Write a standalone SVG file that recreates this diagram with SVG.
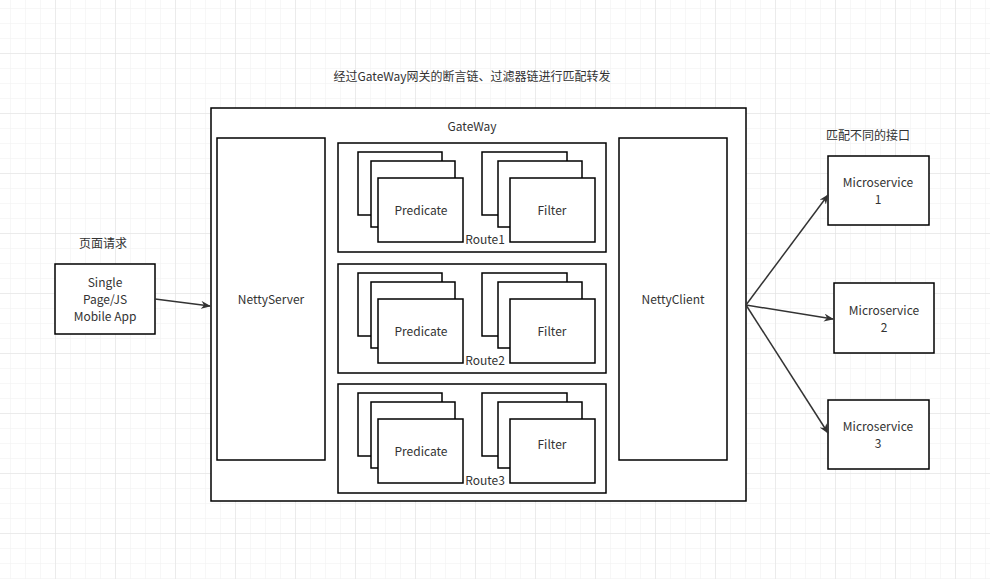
<svg xmlns="http://www.w3.org/2000/svg" width="990" height="579" viewBox="0 0 990 579">
<defs>
<pattern id="minor" x="10" y="8" width="15" height="15" patternUnits="userSpaceOnUse"><path d="M0 0H15M0 0V15" fill="none" stroke="#f0f0f0" stroke-width="1"/></pattern>
<pattern id="major" x="55" y="53" width="60" height="60" patternUnits="userSpaceOnUse"><path d="M0 0H60M0 0V60" fill="none" stroke="#e0e0e0" stroke-width="1"/></pattern>
<marker id="a" markerWidth="10" markerHeight="8" refX="9" refY="4" orient="auto" markerUnits="userSpaceOnUse"><path d="M0 0L10 4L0 8L3 4Z" fill="#333"/></marker>
<g id="stack"><rect x="0" y="0" width="84" height="63"/><rect x="13" y="9" width="84" height="66"/><rect x="20" y="26" width="85" height="64"/></g>
<g id="fstack"><rect x="0" y="0" width="85" height="63"/><rect x="16" y="9" width="84" height="66"/><rect x="28" y="26" width="85" height="64"/></g>
</defs>
<style>
rect{fill:#fff;stroke:#000;stroke-width:1.5}
text{font-family:"Microsoft YaHei","Noto Sans CJK SC","Liberation Sans",sans-serif;font-size:12px;fill:#333;text-anchor:middle}
.c{stroke:#333;stroke-width:1.5;fill:none;marker-end:url(#a)}
</style>
<rect x="0" y="0" width="990" height="579" style="fill:url(#minor);stroke:none"/>
<rect x="0" y="0" width="990" height="579" style="fill:url(#major);stroke:none"/>
<text x="472" y="81">经过GateWay网关的断言链、过滤器链进行匹配转发</text>
<g id="gateway"><rect x="211" y="108" width="535" height="393"/><text x="472" y="131">GateWay</text></g>
<g id="nettyserver"><rect x="217" y="138" width="108" height="322"/><text x="271" y="304">NettyServer</text></g>
<g id="nettyclient"><rect x="619" y="138" width="108" height="322"/><text x="673" y="304">NettyClient</text></g>
<g id="route1"><rect x="338" y="143" width="268" height="109"/>
<use href="#stack" x="358" y="152"/><text x="421" y="215">Predicate</text>
<use href="#fstack" x="482" y="152"/><text x="552" y="215">Filter</text>
<text x="485" y="244">Route1</text></g>
<g id="route2"><rect x="338" y="264" width="268" height="109"/>
<use href="#stack" x="358" y="273"/><text x="421" y="336">Predicate</text>
<use href="#fstack" x="482" y="273"/><text x="552" y="336">Filter</text>
<text x="485" y="365">Route2</text></g>
<g id="route3"><rect x="338" y="384" width="268" height="109"/>
<use href="#stack" x="358" y="393"/><text x="421" y="456">Predicate</text>
<use href="#fstack" x="482" y="393"/><text x="552" y="449">Filter</text>
<text x="485" y="485">Route3</text></g>
<g id="client"><text x="103" y="248">页面请求</text><rect x="55" y="264" width="100" height="70"/>
<text x="105" y="287">Single</text><text x="105" y="304">Page/JS</text><text x="105" y="321">Mobile App</text></g>
<text x="868" y="140">匹配不同的接口</text>
<g id="ms1"><rect x="828" y="156" width="101" height="69"/><text x="878" y="187">Microservice</text><text x="878" y="204">1</text></g>
<g id="ms2"><rect x="834" y="283" width="100" height="70"/><text x="884" y="315">Microservice</text><text x="884" y="332">2</text></g>
<g id="ms3"><rect x="828" y="400" width="101" height="69"/><text x="878" y="431">Microservice</text><text x="878" y="448">3</text></g>
<g id="connectors">
<path class="c" d="M155 299L210 306"/>
<path class="c" d="M746 305L828 195"/>
<path class="c" d="M746 305L833 319"/>
<path class="c" d="M746 305L828 433"/>
</g>
</svg>
